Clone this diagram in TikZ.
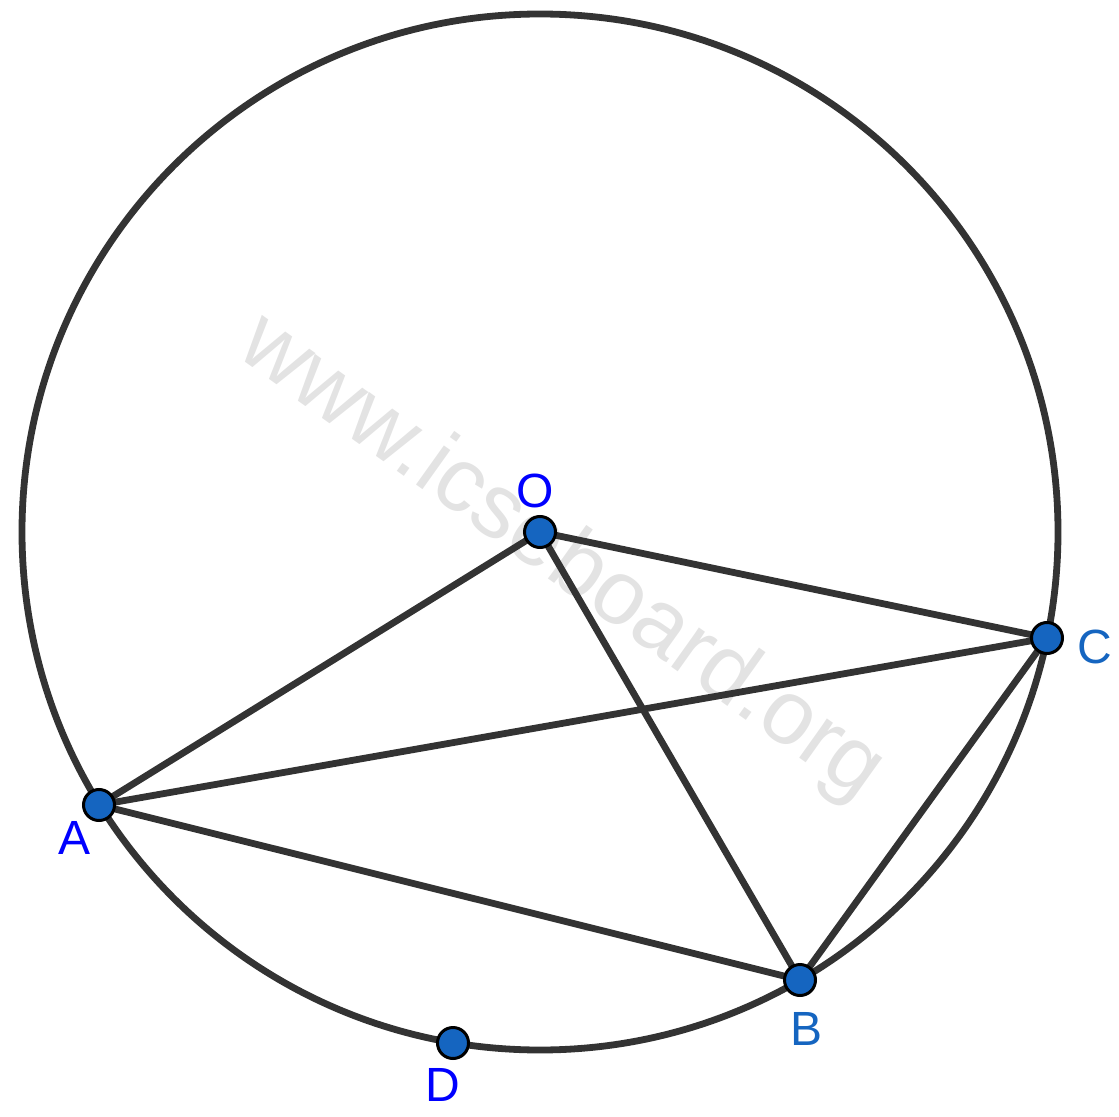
\documentclass[tikz,border=0pt]{standalone}
\usepackage{fontspec}
\setmainfont{Liberation Sans}

\definecolor{segcol}{HTML}{333333}
\definecolor{ptcol}{HTML}{1565C0}
\definecolor{lblblue}{HTML}{0000FF}
\definecolor{markgray}{HTML}{E3E3E3}

\tikzset{
  seg/.style={draw=segcol, line width=3.4pt},
  pt/.style={fill=ptcol, draw=black, line width=1.5pt},
  lbl/.style={inner sep=0pt, font=\fontsize{24}{28}\selectfont}
}

\begin{document}
\begin{tikzpicture}[x=0.5pt, y=0.5pt]
    \useasboundingbox (0,0) rectangle (1119,1116);

    % Define centre O and points A, B, C, D on the circle
    \coordinate (O) at (540,584);
    \coordinate (A) at (99,311);
    \coordinate (B) at (800,136);
    \coordinate (C) at (1047,478);
    \coordinate (D) at (453,73);

    % Watermark
    \node[text=markgray, rotate=-35.5, font=\fontsize{45.5}{50}\selectfont] (mark) at (561,557) {www.icseboard.org};

    % Draw the circle
    \draw[seg] (O) circle [radius=518];

    % Draw segments
    \draw[seg] (A) -- (O) -- (C);
    \draw[seg] (O) -- (B);
    \draw[seg] (A) -- (C);
    \draw[seg] (A) -- (B);
    \draw[seg] (B) -- (C);

    % Draw the points
    \foreach \p in {O,A,B,C,D}
        \filldraw[pt] (\p) circle [radius=15.5];

    % Labels
    \node[lbl, text=lblblue] (labA) at (75,278) {A};
    \node[lbl, text=ptcol] (labB) at (806,87) {B};
    \node[lbl, text=ptcol] (labC) at (1095,469) {C};
    \node[lbl, text=lblblue] (labD) at (443,31) {D};
    \node[lbl, text=lblblue] (labO) at (535,625) {O};
\end{tikzpicture}
\end{document}
